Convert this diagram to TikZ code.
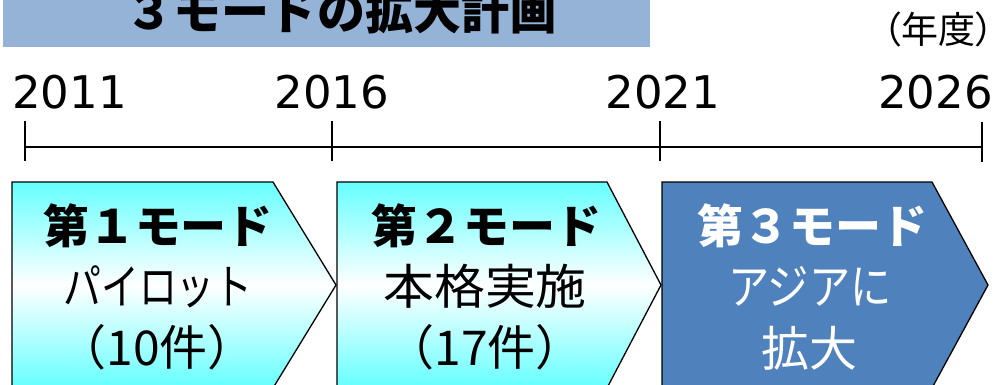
\documentclass[tikz,border=0pt]{standalone}
\usepackage{fontspec}
\setmainfont{Noto Sans CJK JP}
\newfontfamily\yearfont{DejaVu Sans}
\newfontfamily\paltfont[RawFeature=+palt]{Noto Sans CJK JP}
\definecolor{barblue}{RGB}{149,179,215}
\definecolor{cyanc}{RGB}{102,255,255}
\definecolor{modeblue}{RGB}{79,129,189}
\tikzset{
  hd/.style={anchor=base, inner sep=0pt, font=\bfseries\fontsize{46}{46}\selectfont},
  bd/.style={anchor=base, inner sep=0pt, font=\fontsize{48}{48}\selectfont},
  yr/.style={inner sep=0pt, font=\yearfont\fontsize{45}{45}\selectfont},
  cyanarrow/.style={top color=cyanc, bottom color=cyanc, middle color=white, draw=black, line width=1.3pt},
  bluearrow/.style={fill=modeblue, draw=black, line width=1.3pt},
}
\begin{document}
\begin{tikzpicture}[x=1pt,y=-1pt]
\useasboundingbox (0,0) rectangle (994,384);
% title bar
\fill[barblue] (3,0) rectangle (650,47);
\node[anchor=base, inner sep=0pt, font=\bfseries\fontsize{48}{48}\selectfont] (title) at (341,29) {３モードの拡大計画};
\node[anchor=base east, inner sep=0pt, font=\paltfont\fontsize{37}{37}\selectfont] (unit) at (994,43) {（年度）};
% years
\node[yr, anchor=base west] (y2011) at (12,108) {2011};
\node[yr, anchor=base] (y2016) at (332,108) {2016};
\node[yr, anchor=base] (y2021) at (663,108) {2021};
\node[yr, anchor=base east] (y2026) at (993,108) {2026};
% timeline
\coordinate (t1) at (25,147);
\coordinate (t4) at (982,147);
\draw[line width=1.3pt] (t1) -- (t4);
\draw[line width=1.6pt] (25,121) -- (25,161);
\draw[line width=1.6pt] (332,121) -- (332,161);
\draw[line width=1.6pt] (660,121) -- (660,161);
\draw[line width=2.4pt] (982,122) -- (982,162);
% arrows
\shadedraw[cyanarrow] (12,182) -- (273,182) -- (336,285) -- (273,388) -- (12,388) -- cycle;
\shadedraw[cyanarrow] (337,182) -- (607,182) -- (661,285) -- (607,388) -- (337,388) -- cycle;
\filldraw[bluearrow] (662,182) -- (932,182) -- (988,285) -- (932,388) -- (662,388) -- cycle;
% texts
\node[hd] (m1a) at (158,243) {第１モード};
\node[bd] (m1b) at (158,304) {\scalebox{0.79}[1]{パイロット}};
\node[bd] (m1c) at (157,365) {（10件）};
\node[hd] (m2a) at (486,243) {第２モード};
\node[bd] (m2b) at (485,304) {\scalebox{1.06}[1]{本格実施}};
\node[bd] (m2c) at (485,365) {（17件）};
\node[hd, text=white] (m3a) at (812,243) {第３モード};
\node[bd, text=white] (m3b) at (810,304) {\scalebox{0.86}[1]{アジアに}};
\node[bd, text=white] (m3c) at (809,366) {拡大};
\end{tikzpicture}
\end{document}
